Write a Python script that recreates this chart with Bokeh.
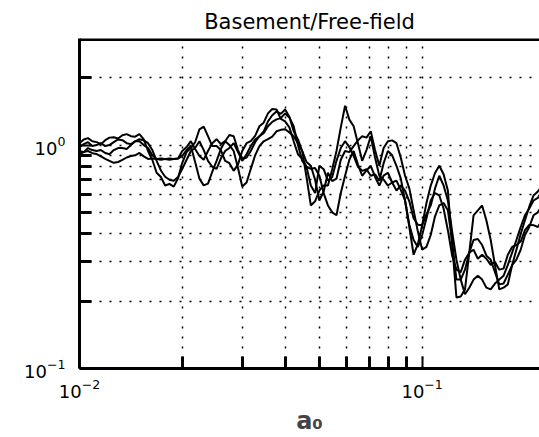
from bokeh.plotting import figure
from bokeh.models import FixedTicker, Span, LogTickFormatter
from bokeh.embed import file_html
from bokeh.resources import INLINE

# non-dimensional frequency a0 (shared by all curves)
a0 = [0.01000, 0.01029, 0.01059, 0.01090, 0.01122, 0.01155, 0.01189, 0.01223, 0.01259, 0.01296,
      0.01334, 0.01373, 0.01413, 0.01454, 0.01496, 0.01540, 0.01585, 0.01631, 0.01679, 0.01728,
      0.01778, 0.01830, 0.01884, 0.01939, 0.01995, 0.02054, 0.02113, 0.02175, 0.02239, 0.02304,
      0.02371, 0.02441, 0.02512, 0.02585, 0.02661, 0.02738, 0.02818, 0.02901, 0.02985, 0.03073,
      0.03162, 0.03255, 0.03350, 0.03447, 0.03548, 0.03652, 0.03758, 0.03868, 0.03981, 0.04097,
      0.04217, 0.04340, 0.04467, 0.04597, 0.04732, 0.04870, 0.05012, 0.05158, 0.05309, 0.05464,
      0.05623, 0.05788, 0.05957, 0.06131, 0.06310, 0.06494, 0.06683, 0.06879, 0.07079, 0.07286,
      0.07499, 0.07718, 0.07943, 0.08175, 0.08414, 0.08660, 0.08913, 0.09173, 0.09441, 0.09716,
      0.10000, 0.10292, 0.10593, 0.10902, 0.11220, 0.11548, 0.11885, 0.12232, 0.12589, 0.12957,
      0.13335, 0.13725, 0.14125, 0.14538, 0.14962, 0.15399, 0.15849, 0.16312, 0.16788, 0.17278,
      0.17783, 0.18302, 0.18836, 0.19387, 0.19953, 0.20535, 0.21135, 0.21752, 0.22387]

ratio_1 = [1.020, 1.06, 1.074, 1.04, 1.031, 1.01, 1.052, 1.08, 1.085, 1.07,
           1.107, 1.12, 1.096, 1.09, 1.119, 1.06, 0.941, 0.86, 0.752, 0.72,
           0.659, 0.67, 0.652, 0.71, 0.833, 0.93, 0.970, 1.03, 1.177, 1.21,
           1.096, 0.99, 0.990, 0.95, 0.850, 0.83, 0.767, 0.82, 0.941, 1.02,
           1.041, 1.10, 1.214, 1.26, 1.386, 1.45, 1.443, 1.31, 1.277, 1.20,
           1.041, 0.91, 0.867, 0.80, 0.659, 0.61, 0.808, 0.78, 0.693, 0.72,
           0.850, 0.97, 1.041, 0.98, 0.894, 0.80, 0.767, 0.78, 0.729, 0.74,
           0.693, 0.83, 0.941, 0.90, 0.808, 0.71, 0.565, 0.44, 0.376, 0.35,
           0.396, 0.47, 0.565, 0.61, 0.595, 0.52, 0.416, 0.32, 0.277, 0.27,
           0.307, 0.33, 0.340, 0.31, 0.323, 0.31, 0.291, 0.30, 0.277, 0.28,
           0.323, 0.35, 0.357, 0.37, 0.416, 0.44, 0.438, 0.43, 0.461]

ratio_2 = [0.980, 1.01, 1.031, 0.99, 1.000, 1.02, 0.990, 1.00, 1.031, 1.06,
           1.052, 1.02, 1.010, 1.04, 1.041, 1.00, 0.970, 0.90, 0.867, 0.87,
           0.867, 0.86, 0.867, 0.87, 0.941, 0.98, 1.041, 0.96, 0.894, 0.86,
           0.941, 1.02, 1.063, 1.01, 1.041, 1.11, 1.096, 0.95, 0.867, 0.88,
           0.941, 1.03, 1.096, 1.15, 1.277, 1.36, 1.414, 1.38, 1.443, 1.34,
           1.153, 1.06, 0.941, 0.84, 0.808, 0.70, 0.565, 0.62, 0.752, 0.69,
           0.707, 0.86, 0.941, 0.93, 0.990, 1.05, 1.096, 1.08, 1.153, 0.95,
           0.808, 0.97, 1.041, 1.05, 1.020, 0.88, 0.729, 0.64, 0.511, 0.41,
           0.340, 0.35, 0.396, 0.48, 0.537, 0.55, 0.511, 0.37, 0.250, 0.25,
           0.277, 0.33, 0.376, 0.38, 0.357, 0.32, 0.307, 0.27, 0.238, 0.24,
           0.263, 0.29, 0.307, 0.34, 0.396, 0.43, 0.485, 0.50, 0.537]

ratio_3 = [0.941, 0.93, 0.970, 0.95, 0.941, 0.95, 0.922, 0.91, 0.950, 0.97,
           0.970, 0.96, 1.000, 1.04, 1.063, 1.05, 1.020, 0.95, 0.850, 0.77,
           0.722, 0.70, 0.693, 0.72, 0.783, 0.86, 0.941, 0.97, 1.041, 0.95,
           0.850, 0.80, 0.783, 0.87, 0.941, 0.97, 1.020, 0.93, 0.850, 0.91,
           0.990, 1.06, 1.096, 1.13, 1.214, 1.27, 1.303, 1.32, 1.386, 1.33,
           1.214, 1.00, 0.850, 0.80, 0.783, 0.79, 0.729, 0.61, 0.537, 0.50,
           0.485, 0.61, 0.729, 0.86, 0.941, 0.82, 0.729, 0.77, 0.808, 0.72,
           0.659, 0.73, 0.752, 0.68, 0.626, 0.66, 0.626, 0.56, 0.471, 0.44,
           0.438, 0.49, 0.537, 0.64, 0.729, 0.66, 0.565, 0.41, 0.307, 0.25,
           0.215, 0.23, 0.250, 0.26, 0.250, 0.23, 0.226, 0.24, 0.250, 0.26,
           0.291, 0.33, 0.376, 0.43, 0.485, 0.52, 0.565, 0.58, 0.626]

ratio_4 = [0.912, 0.93, 0.941, 0.92, 0.912, 0.89, 0.867, 0.85, 0.833, 0.84,
           0.858, 0.88, 0.894, 0.90, 0.922, 0.89, 0.867, 0.87, 0.867, 0.86,
           0.867, 0.87, 0.867, 0.87, 0.894, 0.95, 0.990, 0.84, 0.707, 0.66,
           0.672, 0.76, 0.850, 0.96, 1.041, 1.00, 0.941, 0.79, 0.652, 0.68,
           0.783, 0.90, 0.990, 1.04, 1.063, 1.09, 1.153, 1.17, 1.177, 1.14,
           1.096, 1.02, 0.941, 0.72, 0.537, 0.56, 0.626, 0.66, 0.659, 0.78,
           0.941, 1.20, 1.50, 1.30, 1.214, 1.02, 0.850, 0.95, 1.096, 0.88,
           0.729, 0.70, 0.659, 0.68, 0.693, 0.63, 0.565, 0.43, 0.323, 0.36,
           0.438, 0.55, 0.659, 0.75, 0.808, 0.74, 0.626, 0.36, 0.208, 0.21,
           0.226, 0.33, 0.485, 0.51, 0.537, 0.46, 0.376, 0.29, 0.226, 0.23,
           0.238, 0.29, 0.340, 0.40, 0.461, 0.53, 0.595, 0.62, 0.659]

x_major = [0.01, 0.1]
x_minor = [0.02, 0.03, 0.04, 0.05, 0.06, 0.07, 0.08, 0.09]
y_major = [0.1, 1.0]
y_minor = [0.2, 0.3, 0.4, 0.5, 0.6, 0.7, 0.8, 0.9, 2.0]

FONT = "DejaVu Sans"

p = figure(width=539, height=437, x_axis_type="log", y_axis_type="log",
           x_range=(0.01, 0.22), y_range=(0.1, 3.0),
           output_backend="svg", toolbar_location=None,
           min_border_left=79, min_border_right=0, min_border_top=38, min_border_bottom=66,
           title="Basement/Free-field")
p.outline_line_color = None
p.background_fill_color = "white"
p.border_fill_color = "white"

p.title.align = "center"
p.title.text_font = FONT
p.title.text_font_size = "21px"
p.title.text_font_style = "normal"
p.title.text_color = "black"

p.xaxis.ticker = FixedTicker(ticks=x_major, minor_ticks=x_minor)
p.yaxis.ticker = FixedTicker(ticks=y_major, minor_ticks=y_minor)
p.xaxis.formatter = LogTickFormatter()
p.yaxis.formatter = LogTickFormatter()

for ax in (p.xaxis[0], p.yaxis[0]):
    ax.axis_line_color = "black"
    ax.axis_line_width = 3
    ax.major_tick_in = 12
    ax.major_tick_out = 0
    ax.minor_tick_in = 12
    ax.minor_tick_out = 0
    ax.major_tick_line_color = "black"
    ax.minor_tick_line_color = "black"
    ax.major_tick_line_width = 2
    ax.minor_tick_line_width = 3
    ax.major_label_text_font = FONT
    ax.major_label_text_font_size = "18px"
    ax.major_label_text_color = "black"

p.xaxis.major_label_standoff = 10
p.yaxis.major_label_standoff = 14
p.xaxis.axis_label = "a\u2080"
p.xaxis.axis_label_text_font = FONT
p.xaxis.axis_label_text_font_size = "24px"
p.xaxis.axis_label_text_font_style = "bold"
p.xaxis.axis_label_standoff = 6

for g in (p.xgrid[0], p.ygrid[0]):
    g.grid_line_color = "black"
    g.grid_line_dash = "2 8"
    g.grid_line_width = 1.5
    g.minor_grid_line_color = "black"
    g.minor_grid_line_dash = "2 8"
    g.minor_grid_line_width = 1.5

p.add_layout(Span(location=3.0, dimension="width", line_color="black", line_width=5))

for ys in (ratio_1, ratio_2, ratio_3, ratio_4):
    p.line(a0, ys, line_color="black", line_width=2)

open("out.html", "w").write(file_html(p, INLINE))
